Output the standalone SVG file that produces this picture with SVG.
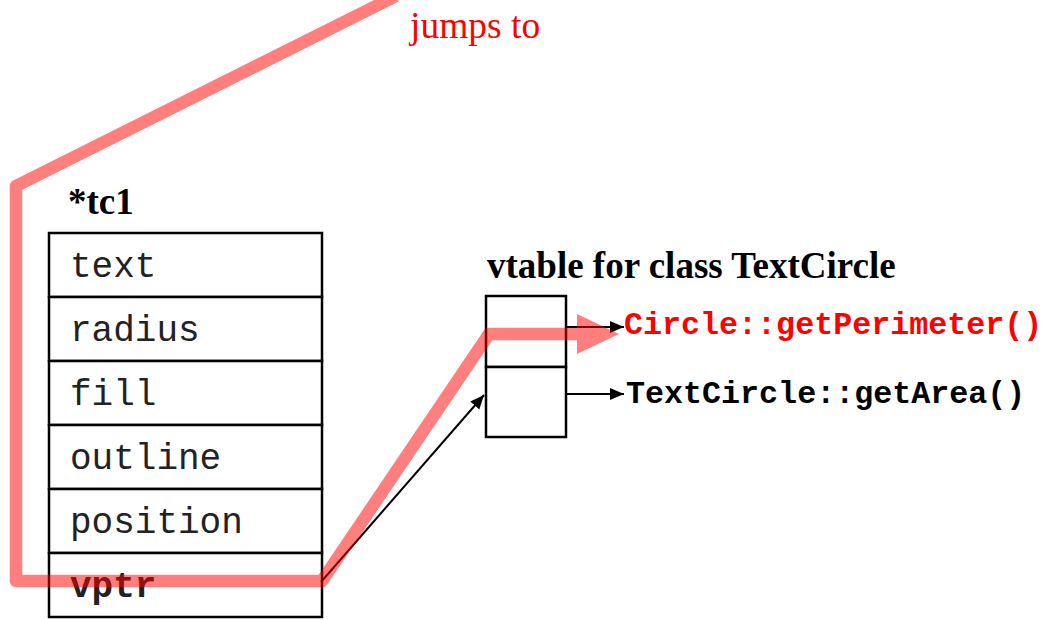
<svg xmlns="http://www.w3.org/2000/svg" width="1048" height="620" viewBox="0 0 1048 620">
  <style>
    .cell { fill: #ffffff; stroke: #000000; stroke-width: 2.5; }
    .field { font-family: "Liberation Mono", "Courier New", monospace; font-size: 36px; fill: #222222; }
    .title { font-family: "Liberation Serif", "Times New Roman", serif; font-size: 37px; font-weight: bold; fill: #000000; }
    .fn { font-family: "Liberation Mono", "Courier New", monospace; font-size: 31.7px; font-weight: bold; }
    .link { fill: none; stroke: #000000; stroke-width: 2; }
  </style>
  <defs>
    <marker id="head" viewBox="0 0 14 14" refX="14" refY="7" markerWidth="14" markerHeight="14" markerUnits="userSpaceOnUse" orient="auto">
      <path d="M0,1 L14,7 L0,13 Z" fill="#000000"/>
    </marker>
  </defs>

  <rect width="1048" height="620" fill="#ffffff"/>

  <!-- object layout of *tc1 -->
  <g id="tc1">
    <text class="title" x="68" y="214">*tc1</text>
    <rect class="cell" x="49" y="233" width="273" height="64"/>
    <rect class="cell" x="49" y="297" width="273" height="64"/>
    <rect class="cell" x="49" y="361" width="273" height="64"/>
    <rect class="cell" x="49" y="425" width="273" height="64"/>
    <rect class="cell" x="49" y="489" width="273" height="64"/>
    <rect class="cell" x="49" y="553" width="273" height="64"/>
    <text class="field" x="70" y="277">text</text>
    <text class="field" x="70" y="341">radius</text>
    <text class="field" x="70" y="405">fill</text>
    <text class="field" x="70" y="469">outline</text>
    <text class="field" x="70" y="533">position</text>
    <text class="field" x="70" y="597" font-weight="bold" fill="#000000">vptr</text>
  </g>

  <!-- vtable -->
  <g id="vtable">
    <text class="title" x="487" y="278">vtable for class TextCircle</text>
    <rect class="cell" x="486" y="296" width="80" height="71"/>
    <rect class="cell" x="486" y="367" width="80" height="70"/>
  </g>

  <g id="fn-perimeter">
    <text class="fn" x="624" y="334" fill="#ff0000">Circle::getPerimeter()</text>
  </g>
  <g id="fn-area">
    <text class="fn" x="626" y="403" fill="#000000">TextCircle::getArea()</text>
  </g>

  <!-- pointers -->
  <g id="connectors">
    <line class="link" x1="321" y1="582" x2="484" y2="395" marker-end="url(#head)"/>
    <line class="link" x1="566" y1="327" x2="624" y2="327" marker-end="url(#head)"/>
    <line class="link" x1="566" y1="394" x2="624" y2="394" marker-end="url(#head)"/>
  </g>

  <!-- call path highlight -->
  <g id="jump-path" opacity="0.5">
    <path d="M396,-4 L16,186 L16,581 L322,581 L489,334 L580,334" fill="none" stroke="#ff0000" stroke-width="12.5" stroke-linejoin="round"/>
    <path d="M577,314 L619,334 L577,354 Z" fill="#ff0000"/>
  </g>
  <text x="410" y="38" font-family="Liberation Serif, Times New Roman, serif" font-size="37.5" fill="#ff0000">jumps to</text>
</svg>
